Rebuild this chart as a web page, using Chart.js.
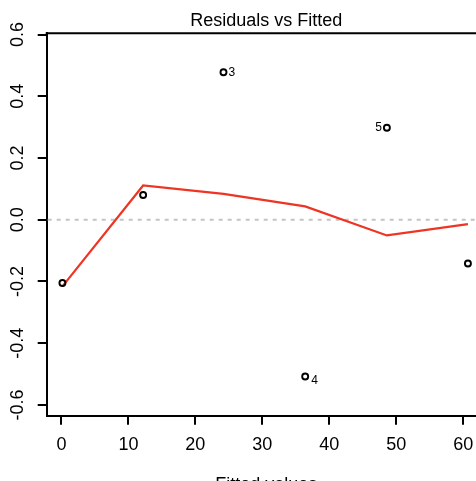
<!DOCTYPE html>
<html>
<head>
<meta charset="utf-8">
<script src="https://cdn.jsdelivr.net/npm/chart.js@4"></script>
<style>
  html, body { margin: 0; padding: 0; overflow: hidden; background: #fff; }
  canvas { display: block; }
</style>
</head>
<body>
<canvas id="myChart" width="520" height="500"></canvas>
<script>
// values
const fitted = [0.15, 12.2, 24.2, 36.4, 48.6, 60.7];
const residuals = [-0.205, 0.080, 0.478, -0.508, 0.298, -0.142];
const smoothed = [-0.216, 0.111, 0.084, 0.043, -0.051, -0.014];
const pointIds = ['', '', '3', '4', '5', ''];
const xTicks = [0, 10, 20, 30, 40, 50, 60];
const yTicks = [-0.6, -0.4, -0.2, 0.0, 0.2, 0.4, 0.6];
const zeroLine = 0;

const FONT = "'Liberation Sans', Arial, Helvetica, sans-serif";

const toPoints = (xs, ys) => xs.map((x, i) => ({ x: x, y: ys[i] }));

// horizontal dashed line at zero, drawn under the data
const zeroLinePlugin = {
    id: 'zeroLine',
    beforeDatasetsDraw: (chart) => {
        const { ctx, chartArea, scales } = chart;
        const y = scales.y.getPixelForValue(zeroLine);
        ctx.save();
        ctx.strokeStyle = '#c4c4c4';
        ctx.lineWidth = 2;
        ctx.setLineDash([4, 5]);
        ctx.beginPath();
        ctx.moveTo(chartArea.left + 1, y);
        ctx.lineTo(chartArea.right, y);
        ctx.stroke();
        ctx.restore();
    }
};

// ids of the extreme residuals next to their points
const idPlugin = {
    id: 'pointIds',
    afterDatasetsDraw: (chart) => {
        const { ctx } = chart;
        const meta = chart.getDatasetMeta(0);
        ctx.save();
        ctx.font = '12px ' + FONT;
        ctx.fillStyle = '#000';
        ctx.textBaseline = 'middle';
        meta.data.forEach((pt, i) => {
            const id = pointIds[i];
            if (!id) return;
            if (id === '5') {
                ctx.textAlign = 'right';
                ctx.fillText(id, pt.x - 5, pt.y);
            } else if (id === '4') {
                ctx.textAlign = 'left';
                ctx.fillText(id, pt.x + 6, pt.y + 4);
            } else {
                ctx.textAlign = 'left';
                ctx.fillText(id, pt.x + 5, pt.y);
            }
        });
        ctx.restore();
    }
};

// top and right edges of the box
const boxPlugin = {
    id: 'box',
    afterDraw: (chart) => {
        const { ctx, chartArea } = chart;
        ctx.save();
        ctx.strokeStyle = '#000';
        ctx.lineWidth = 2;
        ctx.beginPath();
        ctx.moveTo(chartArea.left - 1, chartArea.top);
        ctx.lineTo(chartArea.right, chartArea.top);
        ctx.lineTo(chartArea.right, chartArea.bottom);
        ctx.stroke();
        ctx.restore();
    }
};

const ctx = document.getElementById('myChart').getContext('2d');

const data = {
    datasets: [{
        label: 'Residuals',
        data: toPoints(fitted, residuals),
        showLine: false,
        pointStyle: 'circle',
        pointRadius: 3,
        pointHoverRadius: 3,
        pointBorderWidth: 1.9,
        borderColor: '#000',
        backgroundColor: 'rgba(0,0,0,0)',
        order: 0
    }, {
        label: 'Smoother',
        data: toPoints(fitted, smoothed),
        showLine: true,
        borderColor: '#ee3524',
        borderWidth: 2.2,
        pointRadius: 0,
        lineTension: 0,
        fill: false,
        order: 1
    }]
};

const options = {
    type: 'scatter',
    data: data,
    options: {
        responsive: false,
        animation: false,
        events: [],
        layout: { padding: { top: 0, left: 0, right: 34, bottom: 0 } },
        plugins: {
            legend: { display: false },
            tooltip: { enabled: false },
            title: {
                display: true,
                text: 'Residuals vs Fitted',
                fullSize: false,
                color: '#000',
                font: { family: FONT, size: 18, weight: 'normal' },
                padding: { top: 10, bottom: 1.7 }
            }
        },
        scales: {
            x: {
                type: 'linear',
                min: -2.2,
                max: 63.4,
                afterBuildTicks: (scale) => { scale.ticks = xTicks.map(v => ({ value: v })); },
                afterFit: (scale) => { scale.height = 84.3; },
                ticks: {
                    color: '#000',
                    font: { family: FONT, size: 18 },
                    padding: 10,
                    maxRotation: 0,
                    callback: (value) => String(value)
                },
                grid: {
                    drawOnChartArea: false,
                    drawTicks: true,
                    tickLength: 9,
                    lineWidth: 2,
                    color: '#000'
                },
                border: { display: true, color: '#000', width: 2 },
                title: {
                    display: true,
                    text: 'Fitted values',
                    color: '#000',
                    font: { family: FONT, size: 18 },
                    padding: { top: 0, bottom: 4 }
                }
            },
            y: {
                type: 'linear',
                min: -0.635,
                max: 0.604,
                afterBuildTicks: (scale) => { scale.ticks = yTicks.map(v => ({ value: v })); },
                afterFit: (scale) => { scale.width = 46.7; },
                ticks: {
                    color: '#000',
                    font: { family: FONT, size: 18 },
                    padding: 4,
                    minRotation: 90,
                    maxRotation: 90,
                    crossAlign: 'center',
                    callback: (value) => (Math.abs(value) < 1e-9 ? 0 : value).toFixed(1)
                },
                grid: {
                    drawOnChartArea: false,
                    drawTicks: true,
                    tickLength: 9,
                    lineWidth: 2,
                    color: '#000'
                },
                border: { display: true, color: '#000', width: 2 }
            }
        }
    },
    plugins: [zeroLinePlugin, idPlugin, boxPlugin]
};

const chart = new Chart(ctx, options);
</script>
</body>
</html>
